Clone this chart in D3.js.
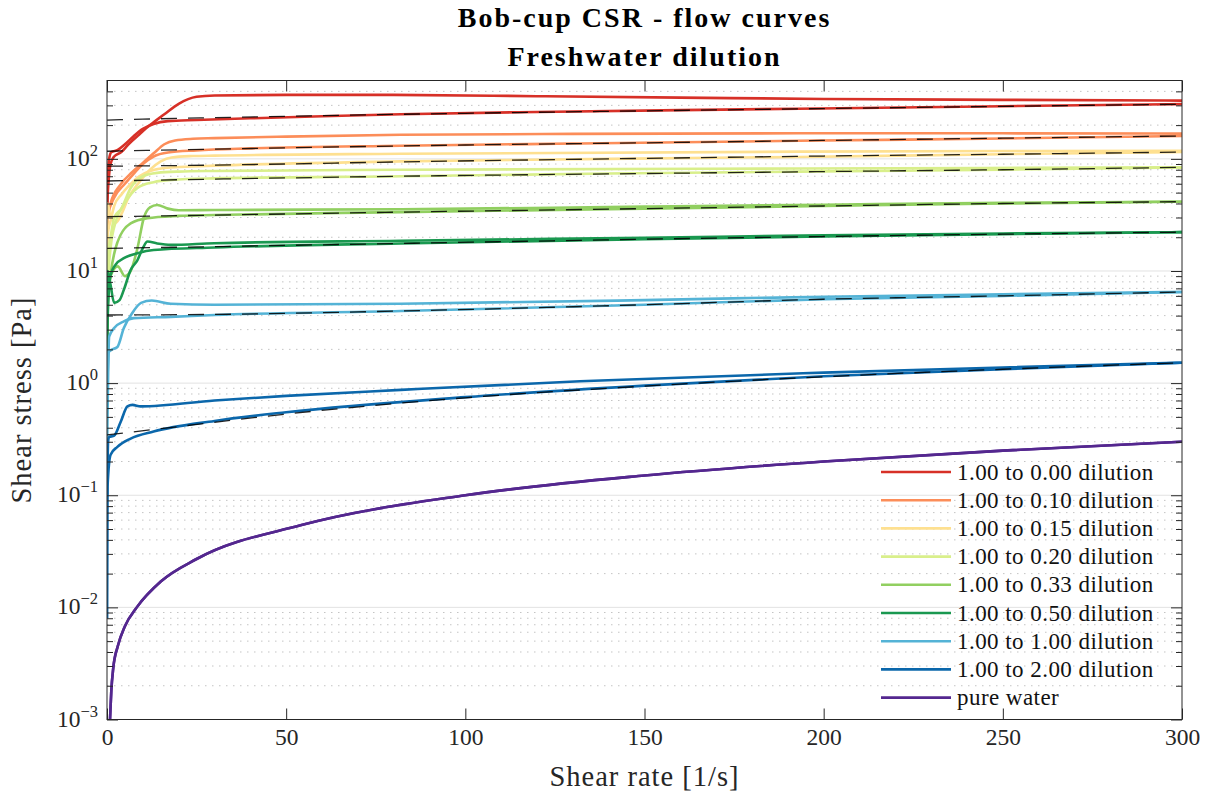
<!DOCTYPE html>
<html>
<head>
<meta charset="utf-8">
<script src="https://cdn.jsdelivr.net/npm/d3@7"></script>
<style>
  body { margin: 0; background: #fff; }
  svg { font-family: "Liberation Serif", "Times New Roman", serif; }
</style>
</head>
<body>
<div id="wrapper"></div>
<script>
// flow curves, [shear rate (1/s), shear stress (Pa)]
const dil000a = [[0.05,40],[0.3,55],[1,90],[2,105],[4,115],[6,135],[9,165],[12,200],[16,250],[20,310],[25,358],[30,368],[50,372],[80,372],[120,362],[160,352],[200,342],[250,336],[300,331]];
const dil000b = [[0.05,30],[0.2,60],[0.6,100],[1.2,115],[3,120],[5,135],[7.5,160],[10,185],[13,205],[17,217],[25,222],[40,230],[60,240],[82,250],[120,262],[160,272],[193,280],[250,295],[300,308]];
const dil010a = [[0.05,25],[0.2,30],[1,40],[3.6,58],[7,76],[10,92],[13,112],[16,135],[19,146],[24,151],[30,153],[50,158],[82,164],[130,167],[193,169],[250,169],[300,168]];
const dil010b = [[0.05,20],[0.3,32],[2,45],[5,60],[7.5,74],[10,90],[13,105],[17,114],[25,119],[40,124],[82,131],[130,137],[193,145],[250,152],[300,160]];
const dil015a = [[0.05,20],[0.2,40],[1,30],[2.5,27],[4,32],[6,45],[9,62],[12,80],[15,95],[18,103],[24,106],[30,107],[82,111],[193,116],[300,118]];
const dil015b = [[0.05,12],[0.3,22],[1,28],[2,38],[4,48],[6,57],[9,70],[12,78],[16,83],[22,85],[30,87],[82,95],[140,100],[193,104],[250,110],[300,115]];
const dil020a = [[0.05,9],[0.2,14],[1,20],[2,30],[4,36],[6.6,55],[10,70],[14,75],[20,77],[30,78],[82,80],[193,82],[300,84]];
const dil020b = [[0.05,4],[0.3,8],[1,16],[2.5,28],[4.7,39],[8.5,55],[13,62],[18,65],[30,67],[82,70],[140,74],[193,77],[250,80],[300,84]];
const dil033a = [[0.05,3],[0.2,6],[1,9],[3,11],[5,9],[6.6,10],[8.5,16],[10.3,30],[12,37],[14,38.8],[17,36],[20,34.8],[30,35],[82,35.5],[150,37.5],[200,39],[250,40.5],[300,41.5]];
const dil033b = [[0.05,2],[0.2,5],[1,9.2],[2.9,18],[6.6,26.6],[11.3,29.6],[20,31],[30,31.6],[82,33.5],[150,36],[200,38],[250,40],[300,41.5]];
const dil050a = [[0.05,4],[0.2,10],[1,7.5],[2,5.2],[3.5,5.5],[4.7,6.8],[6.6,10.2],[8.5,12.5],[10,16],[11.3,18.3],[14,17.6],[17.8,17.1],[30,17.7],[82,18.6],[150,19.8],[200,20.8],[250,21.6],[300,22.2]];
const dil050b = [[0.05,1.5],[0.2,4],[1,9.2],[2.5,11.5],[4.7,13],[8.5,14.4],[13,15.4],[30,16.2],[82,17.6],[150,19.2],[200,20.3],[250,21.3],[300,22.2]];
const dil100a = [[0.05,0.9],[0.5,1.9],[1.1,1.97],[2.9,2.1],[4.7,3.1],[7,4.2],[9.5,5.2],[12.5,5.45],[17.8,5.1],[30,5.0],[82,5.1],[150,5.5],[200,5.9],[250,6.2],[300,6.5]];
const dil100b = [[0.05,0.3],[0.6,2.6],[2,3.1],[4.7,3.55],[7.5,3.8],[17.8,3.9],[30,4.05],[82,4.4],[150,5.0],[200,5.6],[250,6.0],[300,6.5]];
const dil200a = [[0.05,0.1],[0.3,0.3],[0.56,0.33],[2,0.34],[3.8,0.45],[5.7,0.62],[7.1,0.64],[9.4,0.62],[30,0.70],[50,0.77],[82,0.87],[132,1.04],[200,1.24],[250,1.38],[300,1.52]];
const dil200b = [[0.03,0.008],[0.15,0.12],[1,0.23],[2.9,0.27],[6.6,0.32],[13,0.37],[30,0.46],[50,0.55],[100,0.75],[150,0.95],[200,1.15],[250,1.33],[300,1.52]];
const water = [[0.84,0.001],[1.2,0.0018],[1.76,0.0029],[3,0.0045],[5,0.0068],[8.3,0.01],[15,0.017],[25,0.027],[54,0.054],[100,0.1],[150,0.15],[200,0.2],[250,0.25],[300,0.3]];

// fitted curves (dashed)
const fit000 = [[0,222],[10,226],[30,233],[60,243],[100,255],[150,268],[200,281],[250,294],[300,307]];
const fit010 = [[0,117],[30,122],[60,127],[100,133],[150,139],[200,146],[250,153],[300,160]];
const fit015 = [[0,86],[30,88],[82,94],[150,101],[200,106],[250,110],[300,115]];
const fit020 = [[0,63.5],[30,66],[82,70],[150,74],[200,77],[250,80],[300,84]];
const fit033 = [[0,30.5],[30,31.5],[82,33.5],[150,36],[200,38],[250,40],[300,41.5]];
const fit050 = [[0,15.9],[30,16.5],[82,17.6],[150,19.2],[200,20.3],[250,21.3],[300,22.2]];
const fit100 = [[0,4.05],[30,4.1],[82,4.4],[150,5.0],[200,5.6],[250,6.0],[300,6.5]];
const fit200 = [[0,0.345],[20,0.41],[50,0.53],[100,0.74],[150,0.94],[200,1.14],[250,1.33],[300,1.52]];

const labels = ["1.00 to 0.00 dilution","1.00 to 0.10 dilution","1.00 to 0.15 dilution","1.00 to 0.20 dilution","1.00 to 0.33 dilution","1.00 to 0.50 dilution","1.00 to 1.00 dilution","1.00 to 2.00 dilution","pure water"];
const colors = ["#d73027","#fc8d59","#fee090","#d9ef8b","#91cf60","#1a9850","#54b3d6","#0b67ab","#54278f"];
const xTicks = [0,50,100,150,200,250,300];
const yDecades = [1e-3,1e-2,1e-1,1,10,100];
const yExponents = ["-3","-2","-1","0","1","2"];

const runs = [
    [dil000a, dil000b], [dil010a, dil010b], [dil015a, dil015b], [dil020a, dil020b],
    [dil033a, dil033b], [dil050a, dil050b], [dil100a, dil100b], [dil200a, dil200b], [water]
];
const fits = [fit000, fit010, fit015, fit020, fit033, fit050, fit100, fit200];

const dimension = {
    width: 1206,
    height: 796,
    margin: { top: 80.5, left: 107, bottom: 76.5, right: 24 }
};
dimension.boundedWidth = dimension.width - dimension.margin.left - dimension.margin.right;
dimension.boundedHeight = dimension.height - dimension.margin.top - dimension.margin.bottom;

const svg = d3.select("#wrapper").append("svg")
    .attr("width", dimension.width)
    .attr("height", dimension.height);

const x = d3.scaleLinear().domain([0, 300])
    .range([dimension.margin.left, dimension.margin.left + dimension.boundedWidth]);
const y = d3.scaleLog().domain([1e-3, 500])
    .range([dimension.margin.top + dimension.boundedHeight, dimension.margin.top]);

const x0 = x.range()[0], x1 = x.range()[1], y0 = y.range()[0], y1 = y.range()[1];

// grid
const minorVals = [];
yDecades.forEach(d => { for (let m = 2; m <= 9; m++) if (m * d < 500) minorVals.push(m * d); });
svg.append("g").selectAll("line").data(minorVals).join("line")
    .attr("x1", x0).attr("x2", x1)
    .attr("y1", d => y(d)).attr("y2", d => y(d))
    .attr("stroke", "#c4c4c4").attr("stroke-width", 1)
    .attr("stroke-dasharray", "1.5,5.5");
svg.append("g").selectAll("line").data(yDecades).join("line")
    .attr("x1", x0).attr("x2", x1)
    .attr("y1", d => y(d)).attr("y2", d => y(d))
    .attr("stroke", "#e2e2e2").attr("stroke-width", 1);

svg.append("clipPath").attr("id", "plotclip").append("rect")
    .attr("x", x0).attr("y", y1).attr("width", x1 - x0).attr("height", y0 - y1);

const line = d3.line()
    .x(d => x(d[0]))
    .y(d => y(d[1]))
    .curve(d3.curveMonotoneX);

const plot = svg.append("g").attr("clip-path", "url(#plotclip)");
runs.forEach((group, i) => {
    group.forEach(series => {
        plot.append("path").datum(series)
            .attr("d", line)
            .attr("fill", "none")
            .attr("stroke", colors[i])
            .attr("stroke-width", 2.6)
            .attr("stroke-linejoin", "round");
    });
});
fits.forEach(series => {
    plot.append("path").datum(series)
        .attr("d", line)
        .attr("fill", "none")
        .attr("stroke", "#000")
        .attr("stroke-opacity", 0.85)
        .attr("stroke-width", 1.3)
        .attr("stroke-dasharray", "16,11");
});
// water on top
plot.append("path").datum(water)
    .attr("d", line).attr("fill", "none")
    .attr("stroke", colors[8]).attr("stroke-width", 2.6);

// axes with inward ticks
const axisColor = "#262626";
function styleAxis(g) {
    g.select(".domain").remove();
    g.selectAll(".tick line").attr("stroke", axisColor);
}
svg.append("g").attr("transform", `translate(0,${y0})`)
    .call(d3.axisBottom(x).tickValues(xTicks).tickSize(-11).tickPadding(9).tickFormat(d3.format("d")))
    .call(styleAxis)
    .call(g => g.selectAll(".tick text").attr("font-size", 23.5).attr("fill", "#262626")
        .attr("font-family", "Liberation Serif, serif"));
svg.append("g").attr("transform", `translate(0,${y1})`)
    .call(d3.axisTop(x).tickValues(xTicks).tickSize(-11).tickFormat(""))
    .call(styleAxis);

svg.append("g").attr("transform", `translate(${x0},0)`)
    .call(d3.axisLeft(y).tickValues(yDecades).tickSize(-11).tickFormat(""))
    .call(styleAxis);
svg.append("g").attr("transform", `translate(${x0},0)`)
    .call(d3.axisLeft(y).tickValues(minorVals).tickSize(-6).tickFormat(""))
    .call(styleAxis);
svg.append("g").attr("transform", `translate(${x1},0)`)
    .call(d3.axisRight(y).tickValues(yDecades).tickSize(-11).tickFormat(""))
    .call(styleAxis);
svg.append("g").attr("transform", `translate(${x1},0)`)
    .call(d3.axisRight(y).tickValues(minorVals).tickSize(-6).tickFormat(""))
    .call(styleAxis);

// y tick labels with superscripts
const yl = svg.append("g").selectAll("text").data(yDecades).join("text")
    .attr("x", x0 - 9)
    .attr("y", d => y(d) + 7)
    .attr("text-anchor", "end")
    .attr("font-size", 23.5)
    .attr("fill", "#262626");
yl.append("tspan").text("10");
yl.append("tspan").attr("dy", -10).attr("font-size", 16.5).text((d, i) => yExponents[i].replace("-", "\u2212"));

// box
svg.append("rect")
    .attr("x", x0).attr("y", y1)
    .attr("width", x1 - x0).attr("height", y0 - y1)
    .attr("fill", "none").attr("stroke", axisColor).attr("stroke-width", 1);

// titles and axis labels
const cx = (x0 + x1) / 2;
svg.append("text").attr("x", cx).attr("y", 27).attr("text-anchor", "middle")
    .attr("font-size", 28).attr("font-weight", "bold").attr("letter-spacing", 2)
    .text("Bob-cup CSR - flow curves");
svg.append("text").attr("x", cx).attr("y", 66).attr("text-anchor", "middle")
    .attr("font-size", 28).attr("font-weight", "bold").attr("letter-spacing", 2)
    .text("Freshwater dilution");
svg.append("text").attr("x", cx).attr("y", 786).attr("text-anchor", "middle")
    .attr("font-size", 28.5).attr("letter-spacing", 1).attr("fill", "#262626")
    .text("Shear rate [1/s]");
svg.append("text").attr("transform", `translate(31,${(y0 + y1) / 2}) rotate(-90)`)
    .attr("text-anchor", "middle")
    .attr("font-size", 28.5).attr("letter-spacing", 1).attr("fill", "#262626")
    .text("Shear stress [Pa]");

// legend
const legend = svg.append("g");
labels.forEach((lab, i) => {
    const ly = 472 + i * 28.2;
    legend.append("line").attr("x1", 881).attr("x2", 951).attr("y1", ly).attr("y2", ly)
        .attr("stroke", colors[i]).attr("stroke-width", 2.6);
    legend.append("text").attr("x", 957).attr("y", ly + 7.5)
        .attr("font-size", 23).attr("letter-spacing", 0.45).attr("fill", "#111").text(lab);
});
</script>
</body>
</html>
